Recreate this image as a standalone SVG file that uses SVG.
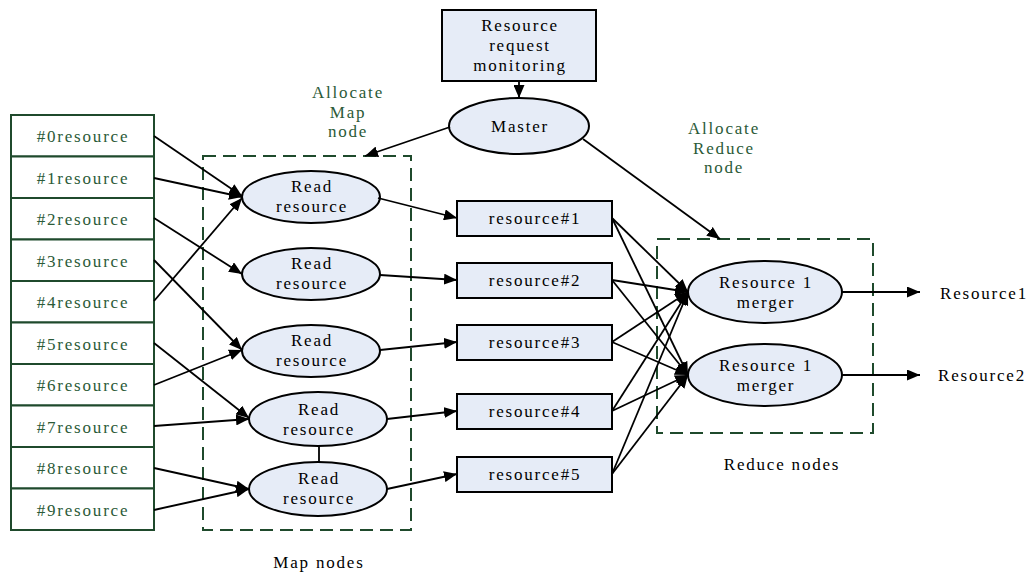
<svg xmlns="http://www.w3.org/2000/svg" width="1032" height="574" viewBox="0 0 1032 574" font-family="'Liberation Serif', 'DejaVu Serif', serif">
<defs>
<marker id="ah" viewBox="0 0 13 11" refX="13" refY="5.5" markerWidth="13" markerHeight="11" markerUnits="userSpaceOnUse" orient="auto">
<path d="M0,0 L13,5.5 L0,11 z" fill="#000"/>
</marker>
</defs>
<style>
text{font-size:17px;letter-spacing:1.8px;text-anchor:middle;fill:#000}
.g{fill:#2b5a38}
.src{fill:#fff;stroke:#1f4a2c;stroke-width:2}
.nd{fill:#e6ecf7;stroke:#000;stroke-width:2}
.dash{fill:none;stroke:#1f4a2c;stroke-width:2;stroke-dasharray:13 7}
.e{stroke:#000;stroke-width:1.8;fill:none;marker-end:url(#ah)}
.ln{stroke:#000;stroke-width:1.8;fill:none}
</style>
<rect width="1032" height="574" fill="#fff"/>

<g id="map-group">
<rect class="dash" x="203" y="156" width="208" height="374"/>
<text x="319" y="568">Map nodes</text>
</g>
<g id="reduce-group">
<rect class="dash" x="657" y="239" width="216" height="194"/>
<text x="782" y="470">Reduce nodes</text>
</g>

<g id="sources">
<g id="src0"><rect class="src" x="11" y="115" width="143" height="41.5"/><text class="g" x="83" y="142">#0resource</text></g>
<g id="src1"><rect class="src" x="11" y="156.5" width="143" height="41.5"/><text class="g" x="83" y="183.5">#1resource</text></g>
<g id="src2"><rect class="src" x="11" y="198" width="143" height="41.5"/><text class="g" x="83" y="225">#2resource</text></g>
<g id="src3"><rect class="src" x="11" y="239.5" width="143" height="41.5"/><text class="g" x="83" y="266.5">#3resource</text></g>
<g id="src4"><rect class="src" x="11" y="281" width="143" height="41.5"/><text class="g" x="83" y="308">#4resource</text></g>
<g id="src5"><rect class="src" x="11" y="322.5" width="143" height="41.5"/><text class="g" x="83" y="349.5">#5resource</text></g>
<g id="src6"><rect class="src" x="11" y="364" width="143" height="41.5"/><text class="g" x="83" y="391">#6resource</text></g>
<g id="src7"><rect class="src" x="11" y="405.5" width="143" height="41.5"/><text class="g" x="83" y="432.5">#7resource</text></g>
<g id="src8"><rect class="src" x="11" y="447" width="143" height="41.5"/><text class="g" x="83" y="474">#8resource</text></g>
<g id="src9"><rect class="src" x="11" y="488.5" width="143" height="41.5"/><text class="g" x="83" y="515.5">#9resource</text></g>
</g>

<g id="monitor"><rect class="nd" x="442" y="10" width="154" height="71"/>
<text x="520" y="31">Resource</text><text x="520" y="51">request</text><text x="520" y="71">monitoring</text></g>
<g id="master"><ellipse class="nd" cx="519" cy="126" rx="70" ry="28"/><text x="520" y="132">Master</text></g>

<g id="labels">
<text class="g" x="348" y="98">Allocate</text><text class="g" x="348" y="118">Map</text><text class="g" x="348" y="137">node</text>
<text class="g" x="724" y="134">Allocate</text><text class="g" x="724" y="154">Reduce</text><text class="g" x="724" y="173">node</text>
</g>

<g id="read1"><ellipse class="nd" cx="311" cy="197" rx="69" ry="26"/><text x="312" y="192">Read</text><text x="312" y="212">resource</text></g>
<g id="read2"><ellipse class="nd" cx="311" cy="274" rx="69" ry="26"/><text x="312" y="269">Read</text><text x="312" y="289">resource</text></g>
<g id="read3"><ellipse class="nd" cx="311" cy="351" rx="69" ry="26"/><text x="312" y="346">Read</text><text x="312" y="366">resource</text></g>
<g id="read4"><ellipse class="nd" cx="318" cy="419" rx="69" ry="27"/><text x="319" y="415">Read</text><text x="319" y="435">resource</text></g>
<g id="read5"><ellipse class="nd" cx="318" cy="489" rx="69" ry="27"/><text x="319" y="484">Read</text><text x="319" y="504">resource</text></g>

<g id="res1"><rect class="nd" x="457" y="201" width="155" height="35"/><text x="535" y="224">resource#1</text></g>
<g id="res2"><rect class="nd" x="457" y="263" width="155" height="35"/><text x="535" y="286">resource#2</text></g>
<g id="res3"><rect class="nd" x="457" y="325" width="155" height="35"/><text x="535" y="348">resource#3</text></g>
<g id="res4"><rect class="nd" x="457" y="394" width="155" height="35"/><text x="535" y="417">resource#4</text></g>
<g id="res5"><rect class="nd" x="457" y="457" width="155" height="35"/><text x="535" y="480">resource#5</text></g>

<g id="merger1"><ellipse class="nd" cx="765" cy="292" rx="77" ry="31"/><text x="766" y="288">Resource 1</text><text x="766" y="308">merger</text></g>
<g id="merger2"><ellipse class="nd" cx="765" cy="375" rx="77" ry="31"/><text x="766" y="371">Resource 1</text><text x="766" y="391">merger</text></g>

<g id="outputs">
<text x="940" y="299" style="text-anchor:start">Resource1</text>
<text x="938" y="381" style="text-anchor:start">Resource2</text>
</g>

<g id="connectors">
<line class="e" x1="519" y1="81" x2="519" y2="98"/>
<line class="e" x1="450" y1="127" x2="365" y2="156"/>
<line class="e" x1="583" y1="139" x2="720" y2="239"/>

<line class="e" x1="154" y1="136" x2="242" y2="196"/>
<line class="e" x1="154" y1="178" x2="242" y2="197"/>
<line class="e" x1="154" y1="218" x2="242" y2="274"/>
<line class="e" x1="154" y1="260" x2="242" y2="350"/>
<line class="e" x1="154" y1="301" x2="242" y2="198"/>
<line class="e" x1="154" y1="343" x2="249" y2="418"/>
<line class="e" x1="154" y1="385" x2="242" y2="350"/>
<line class="e" x1="154" y1="426" x2="249" y2="419"/>
<line class="e" x1="154" y1="468" x2="249" y2="489"/>
<line class="e" x1="154" y1="510" x2="249" y2="489"/>

<line class="e" x1="378" y1="198" x2="457" y2="218"/>
<line class="e" x1="380" y1="275" x2="457" y2="280"/>
<line class="e" x1="380" y1="350" x2="457" y2="342"/>
<line class="e" x1="387" y1="419" x2="457" y2="411"/>
<line class="e" x1="387" y1="489" x2="457" y2="474"/>
<line class="ln" x1="319" y1="446" x2="319" y2="462"/>

<line class="e" x1="612" y1="218" x2="688" y2="292"/>
<line class="e" x1="612" y1="218" x2="688" y2="375"/>
<line class="e" x1="612" y1="280" x2="688" y2="292"/>
<line class="e" x1="612" y1="280" x2="688" y2="375"/>
<line class="e" x1="612" y1="342" x2="688" y2="292"/>
<line class="e" x1="612" y1="342" x2="688" y2="375"/>
<line class="e" x1="612" y1="411" x2="688" y2="292"/>
<line class="e" x1="612" y1="411" x2="688" y2="375"/>
<line class="e" x1="612" y1="474" x2="688" y2="292"/>
<line class="e" x1="612" y1="474" x2="688" y2="375"/>

<line class="e" x1="842" y1="292" x2="920" y2="292"/>
<line class="e" x1="842" y1="375" x2="920" y2="375"/>
</g>
</svg>
